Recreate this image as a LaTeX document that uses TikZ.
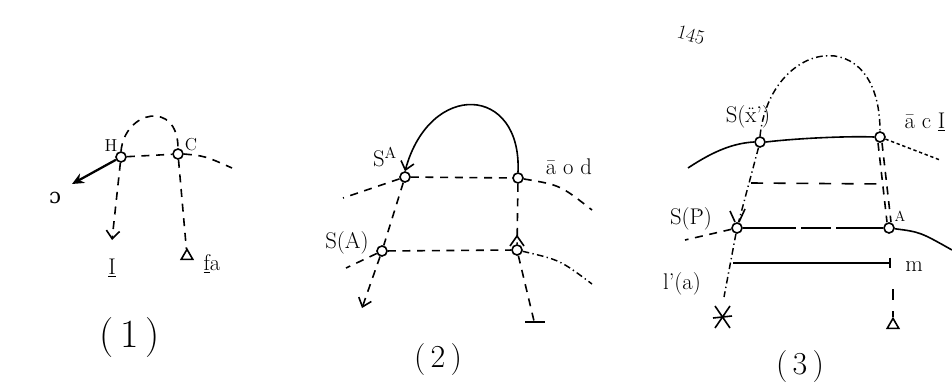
\documentclass[tikz,border=0pt]{standalone}
\usepackage{fontspec}
\newfontfamily\dvfont{DejaVu Serif}
\usetikzlibrary{arrows.meta,shapes.geometric}
\begin{document}
\begin{tikzpicture}[x=0.75pt,y=-0.75pt,
  nd/.style={circle,draw,line width=1.2pt,inner sep=0pt,minimum size=7.5pt},
  tri/.style={regular polygon,regular polygon sides=3,draw,line width=1.2pt,inner sep=0pt,minimum size=10pt},
  ln/.style={line width=1.2pt},
  dsh/.style={line width=1.2pt,dash pattern=on 6pt off 5pt},
  ddot/.style={line width=1.1pt,dash pattern=on 5pt off 2.5pt on 1pt off 2.5pt},
  lbl/.style={font=\fontsize{17}{19}\selectfont,inner sep=0pt},
  num/.style={font=\fontsize{24}{28}\selectfont,inner sep=0pt},
  tipv/.style={-{Straight Barb[length=6pt,width=10pt]}}]
\useasboundingbox (0,0) rectangle (952,392);
% ---------- panel 1 ----------
\node[nd] (h) at (121,157) {};
\node[nd] (c) at (178,154) {};
\node[lbl,font=\fontsize{13}{15}\selectfont] at (111,146) {H};
\node[lbl,font=\fontsize{13}{15}\selectfont] at (191,145) {C};
\draw[dsh] (h) -- (c);
\draw[dsh] (h.north) .. controls (125,110) and (178,100) .. (c.north);
\coordinate (c1) at (232,168);
\draw[dsh] (c.east) .. controls (205,156) .. (c1);
\coordinate (d1) at (72,184);
\draw[line width=1.7pt,-{Stealth[length=9pt,width=8pt]}] (h) -- (d1);
\node[lbl,font=\dvfont\fontsize{16}{18}\selectfont] at (55,198) {ɔ};
\coordinate (i1) at (112,240);
\draw[dsh,tipv] (h) -- (i1);
\node[lbl] at (112,268) {\underline{I}};
\node[tri] (t1) at (187,256) {};
\draw[dsh] (c) -- (t1);
\node[lbl] at (212,264) {\underline{f}a};
\node[num,font=\fontsize{30}{34}\selectfont] at (130,338) {(\,1\,)};
% ---------- panel 2 ----------
\node[nd] (sa) at (405,177) {};
\node[nd] (r1) at (518,178) {};
\node[lbl] at (385,157) {S\textsuperscript{A}};
\node[lbl] at (569,167) {ā o d};
\draw[ln,tipv] (r1.north) .. controls (522,85) and (430,80) .. (sa.north);
\draw[dsh] (sa) -- (r1);
\coordinate (sal) at (343,198);
\draw[dsh] (sa) -- (sal);
\coordinate (r1r) at (592,210);
\draw[dsh] (r1) .. controls (560,185) .. (r1r);
\node[nd] (s2) at (382,251) {};
\node[lbl] at (347,243) {S(A)};
\node[nd] (r2) at (517,250) {};
\draw[ln] (510,246) -- (517,236) -- (524,246);
\draw[dsh] (sa) -- (s2);
\draw[dsh] (r1) -- (r2);
\draw[dsh] (s2) -- (r2);
\coordinate (s2l) at (346,268);
\draw[dsh] (s2) -- (s2l);
\coordinate (r2r) at (592,284);
\draw[ddot] (r2) .. controls (560,260) .. (r2r);
\coordinate (s2d) at (362,308);
\draw[dsh,tipv] (s2) -- (s2d);
\coordinate (r2d) at (534,321);
\draw[dsh] (r2) -- (r2d);
\draw[ln] (525,322) -- (545,322);
\node[num] at (438,360) {(\,2\,)};
% ---------- panel 3 ----------
\node[lbl,font=\fontsize{15}{17}\selectfont,rotate=-15] at (691,35) {145};
\node[nd] (n1) at (760,142) {};
\node[nd] (n2) at (880,137) {};
\node[lbl] at (748,117) {S(\"x')};
\node[lbl] at (925,122) {ā c \underline{I}};
\draw[ddot] (n1.north) .. controls (770,40) and (880,20) .. (n2.north);
\coordinate (l3) at (688,168);
\draw[ln] (l3) .. controls (715,150) and (735,143) .. (n1.west);
\draw[ln] (n1.east) .. controls (800,138) and (850,136) .. (n2.west);
\coordinate (n2r) at (940,160);
\draw[line width=1.1pt,dash pattern=on 2.5pt off 2pt] (n2) -- (n2r);
\node[nd] (n3) at (737,228) {};
\draw[ln] (730,211) -- (735,222);
\draw[ln] (745,209) -- (739,222);
\node[lbl] at (691,219) {S(\.P)};
\coordinate (n3l) at (685,240);
\draw[dsh] (n3) -- (n3l);
\node[nd] (n4) at (889,228) {};
\node[lbl,font=\fontsize{11}{12}\selectfont] at (900,216) {A};
\draw[ddot] (n1) -- (n3);
\draw[dsh] ([xshift=-1.5pt]n2.south) -- ([xshift=-1.5pt]n4.north);
\draw[dsh] ([xshift=1.5pt]n2.south) -- ([xshift=1.5pt]n4.north);
\coordinate (hl) at (751,183);
\coordinate (hr) at (885,184);
\draw[line width=1.2pt,dash pattern=on 9pt off 8pt] (hl) -- (hr);
\draw[ln,dash pattern=on 40pt off 4pt on 22pt off 4pt] (n3) -- (n4);
\coordinate (n4r) at (952,250);
\draw[ln] (n4) .. controls (920,232) .. (n4r);
\coordinate (ml) at (733,263);
\coordinate (mr) at (890,263);
\draw[ln] (ml) -- (mr);
\draw[ln] ([yshift=4pt]mr) -- ([yshift=-4pt]mr);
\node[lbl] at (914,267) {m};
\node[lbl] at (682,284) {l'(a)};
\coordinate (n3d) at (724,297);
\draw[ddot] (n3) -- (n3d);
\draw[ln] (715,306) -- (730,328);
\draw[ln] (730,306) -- (715,328);
\draw[ln] (713,318) -- (732,316);
\coordinate (r3a) at (893,289);
\coordinate (r3b) at (893,300);
\draw[ln] (r3a) -- (r3b);
\node[tri] (t3) at (893,325) {};
\coordinate (t3s) at (893,311);
\draw[ln] (t3s) -- (t3.north);
\node[num] at (800,367) {(\,3\,)};
\end{tikzpicture}
\end{document}
